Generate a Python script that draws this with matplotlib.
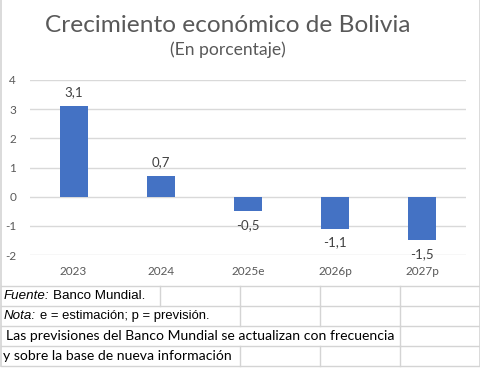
import numpy as np
import matplotlib.pyplot as plt

# datos
years = ['2023', '2024', '2025e', '2026p', '2027p']
growth = [3.1, 0.7, -0.5, -1.1, -1.5]
labels = ['3,1', '0,7', '-0,5', '-1,1', '-1,5']
yticks = [-2, -1, 0, 1, 2, 3, 4]

W, H = 481, 381
fig = plt.figure(figsize=(W / 100, H / 100), dpi=100)
fig.patch.set_facecolor('white')

# capa de fondo en pixeles (celdas de la hoja)
bg = fig.add_axes([0, 0, 1, 1])
bg.set_xlim(0, W)
bg.set_ylim(H, 0)
bg.axis('off')

gc = '#d4d4d4'
rows = [286, 306, 326, 346, 366]
for r in rows:
    bg.plot([1, 480], [r, r], color=gc, lw=1)
bg.plot([1, 1], [0, 366], color=gc, lw=1.2)
bg.plot([480, 480], [0, 366], color=gc, lw=1.2)
# lineas verticales de celdas por fila
cols_by_row = [[160, 240, 320, 400], [240, 320, 400], [400], [240, 320, 400]]
for i, cols in enumerate(cols_by_row):
    for c in cols:
        bg.plot([c, c], [rows[i], rows[i + 1]], color=gc, lw=1)

ff = ['Liberation Sans', 'DejaVu Sans']
cal = ['Lato', 'DejaVu Sans']
bg.text(4, 296, 'Fuente:', fontsize=9.6, style='italic', family=ff, va='center', color='black')
bg.text(53, 296, 'Banco Mundial.', fontsize=9.6, family=ff, va='center', color='black')
bg.text(4, 316, 'Nota:', fontsize=9.6, style='italic', family=ff, va='center', color='black')
bg.text(40, 316, 'e = estimación; p = previsión.', fontsize=9.4, family=ff, va='center', color='black')
bg.text(6, 336, 'Las previsiones del Banco Mundial se actualizan con frecuencia',
        fontsize=10.1, family=cal, va='center', color='black')
bg.text(3, 356, 'y sobre la base de nueva información',
        fontsize=10.1, family=cal, va='center', color='black')

# titulos
bg.text(228, 25, 'Crecimiento económico de Bolivia', fontsize=17.6, family=cal,
        ha='center', va='center', color='#595959')
bg.text(228, 50, '(En porcentaje)', fontsize=12.6, family=cal,
        ha='center', va='center', color='#595959')

# grafico
ax = fig.add_axes([30 / W, (H - 255) / H, 436 / W, 175 / H])
x = np.arange(len(years))
ax.bar(x, growth, width=0.32, color='#4472c4', zorder=3)
ax.set_xlim(-0.5, len(years) - 0.5)
ax.set_ylim(-2, 4)
ax.set_yticks(yticks)
ax.set_yticklabels([str(t) for t in yticks])
ax.set_xticks(x)
ax.set_xticklabels(years)
ax.grid(axis='y', color='#d9d9d9', lw=1, zorder=0)
for s in ax.spines.values():
    s.set_visible(False)
ax.tick_params(length=0, colors='#595959', labelsize=8.5)
ax.tick_params(axis='x', pad=8)
ax.tick_params(axis='y', pad=10)
for lab in ax.get_xticklabels() + ax.get_yticklabels():
    lab.set_family(cal)

for xi, v, t in zip(x, growth, labels):
    off = 10 if v >= 0 else -10
    ax.annotate(t, (xi, v), xytext=(0, off), textcoords='offset points',
                ha='center', va='center', fontsize=9.5, family=cal, color='#404040')

fig.savefig('out.png', dpi=100)
